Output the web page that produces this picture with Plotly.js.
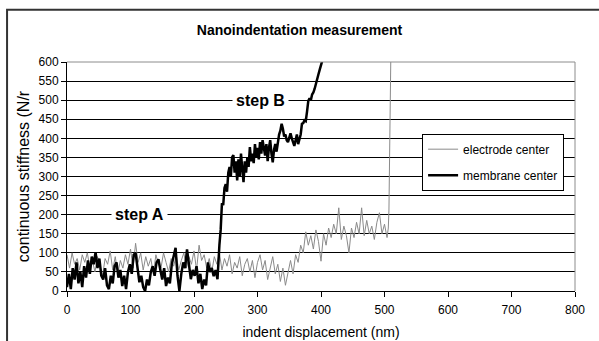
<!DOCTYPE html>
<html>
<head>
<meta charset="utf-8">
<script src="https://cdn.plot.ly/plotly-3.0.1.min.js"></script>
<style>html,body{margin:0;padding:0;background:#fff;}#chart{width:599px;height:341px;}</style>
</head>
<body>
<div id="chart"></div>
<script>
// electrode center (grey)
const electrodeX = [0,4,8,12,16,20,24,28,32,36,40,44,48,52,56,60,64,68,72,76,80,84,88,92,96,100,104,108,112,116,120,124,128,132,136,140,144,148,152,156,160,164,168,172,176,180,184,188,192,196,200,204,208,212,216,220,224,228,232,236,240,244,248,252,256,260,264,268,272,276,280,284,288,292,296,300,304,308,312,316,320,324,328,332,336,340,344,348,352,356,360,364,368,372,376,380,384,388,392,396,400,404,408,412,416,420,424,428,432,436,440,444,448,452,456,460,464,468,472,476,480,484,488,492,496,500,504,506,507,508,509,510];
const electrodeY = [95,60,100,70,85,55,95,75,100,60,80,50,90,65,40,85,70,105,55,90,45,80,60,95,70,110,60,125,75,100,55,90,65,85,45,95,70,60,100,75,50,85,65,95,55,80,100,60,90,70,105,55,120,80,95,60,85,50,90,70,100,55,85,65,95,45,75,60,90,40,70,85,50,80,35,75,95,55,80,30,65,90,45,70,25,60,15,50,80,45,95,75,120,100,155,120,145,110,160,130,78,150,120,165,140,175,150,218,135,170,145,100,165,140,180,150,218,145,185,150,170,135,180,205,150,175,140,165,212,350,480,620];

// membrane center (black)
const membraneX = [0,3,6,9,12,15,18,21,24,27,30,33,36,39,42,45,48,51,54,57,60,63,66,69,72,75,78,81,84,87,90,93,96,99,102,105,108,111,114,117,120,123,126,129,132,135,138,141,144,147,150,153,156,159,162,165,168,171,174,177,180,183,186,189,192,195,198,201,204,207,210,213,216,219,222,225,228,231,234,237,240,242,244,246,248,250,252,254,256,258,260,262,264,266,268,270,272,274,276,278,280,282,284,286,288,290,292,294,296,298,300,302,304,306,308,310,312,314,316,318,320,322,324,326,328,330,332,334,336,338,340,342,344,346,348,350,352,354,356,358,360,362,364,366,368,370,372,374,376,378,380,382,384,386,388,390,392,394,396,398,400,402,404];
const membraneY = [10,45,5,60,30,75,20,50,10,65,35,80,45,90,70,102,60,85,40,30,60,15,5,40,20,65,75,35,55,13,40,5,50,70,45,95,100,60,23,40,10,0,30,15,50,65,40,75,83,55,30,60,13,35,20,70,95,113,40,0,45,75,60,109,70,31,55,40,65,20,45,5,30,15,75,50,60,39,55,31,120,160,230,225,270,280,260,310,325,300,350,356,310,340,290,345,300,360,320,285,340,310,350,325,377,340,360,335,385,350,375,345,390,360,395,370,355,385,340,375,395,360,337,370,385,365,395,410,420,438,425,405,410,395,390,400,413,400,390,380,395,410,385,395,410,438,440,447,445,470,498,505,500,515,520,530,545,560,568,580,592,603,615];

const seriesNames = ["electrode center", "membrane center"];
const xTicks = [0,100,200,300,400,500,600,700,800];
const yTicks = [0,50,100,150,200,250,300,350,400,450,500,550,600];
const notes = [{text:"step A", x:114, y:200}, {text:"step B", x:305, y:500}];

const FONT = "Arial, 'Liberation Sans', sans-serif";

const traces = [
  {x: electrodeX, y: electrodeY, name: seriesNames[0], type: "scatter", mode: "lines",
   line: {color: "#8a8a8a", width: 1}, legendgroup: "a"},
  {x: membraneX, y: membraneY, name: seriesNames[1], type: "scatter", mode: "lines",
   line: {color: "#000000", width: 2.5}, legendgroup: "b"}
];

const layout = {
  width: 599, height: 341,
  margin: {l: 67, r: 24, t: 62, b: 50},
  paper_bgcolor: "#ffffff", plot_bgcolor: "#ffffff",
  font: {family: FONT, size: 12, color: "#000"},
  title: {text: "<b>Nanoindentation measurement</b>", font: {family: FONT, size: 14, color: "#000"},
          x: 0.5, xref: "container", y: 0.912, yref: "container", yanchor: "middle"},
  showlegend: true,
  legend: {x: 0.699, y: 0.687, xanchor: "left", yanchor: "top", bgcolor: "#fff",
           bordercolor: "#000", borderwidth: 1, font: {family: FONT, size: 12, color: "#000"},
           traceorder: "grouped", tracegroupgap: 7},
  xaxis: {range: [0, 800], tickvals: xTicks, ticks: "outside", ticklen: 5, tickcolor: "#000",
          ticklabelstandoff: 3,
          showline: true, linecolor: "#000", linewidth: 1, showgrid: false, zeroline: false,
          tickfont: {family: FONT, size: 12, color: "#000"},
          title: {text: "indent displacement (nm)", font: {family: FONT, size: 14, color: "#000"}, standoff: 10}},
  yaxis: {range: [0, 600], tickvals: yTicks, ticks: "outside", ticklen: 5, tickcolor: "#000",
          showline: true, linecolor: "#000", linewidth: 1, showgrid: true, gridcolor: "#000", gridwidth: 1,
          zeroline: false, tickfont: {family: FONT, size: 12, color: "#000"},
          title: {text: "continuous stiffness (N/r", font: {family: FONT, size: 16, color: "#000"}, standoff: 4}},
  annotations: notes.map(n => ({text: "<b>" + n.text + "</b>", x: n.x, y: n.y, xref: "x", yref: "y",
    showarrow: false, font: {family: FONT, size: 16, color: "#000"}, bgcolor: "#fff", borderpad: 3,
    xanchor: "center", yanchor: "middle"})),
  shapes: [
    {type: "path", xref: "paper", yref: "paper", path: "M 0 1 L 1 1 L 1 0",
     line: {color: "#8c8c8c", width: 1}, layer: "above"},
    {type: "path", xref: "paper", yref: "paper", path: "M -0.118 -0.4 L -0.118 1.228 L 1.2 1.228",
     line: {color: "#333", width: 2}, layer: "above"}
  ]
};

Plotly.newPlot("chart", traces, layout, {displayModeBar: false, staticPlot: true});
</script>
</body>
</html>
